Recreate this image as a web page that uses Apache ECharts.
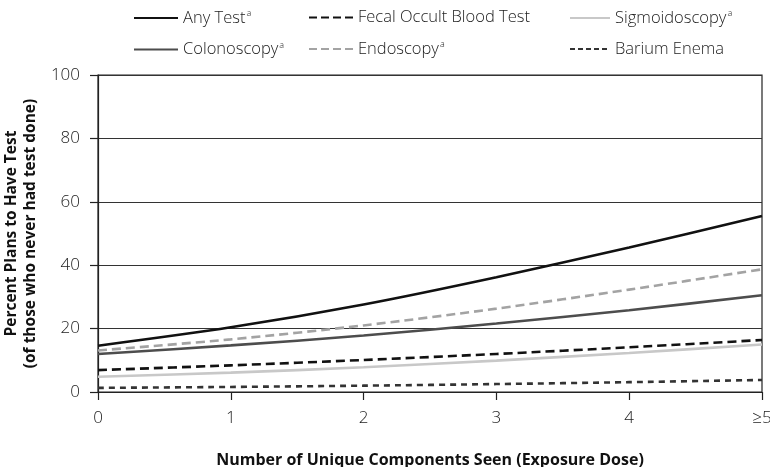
<!DOCTYPE html>
<html><head><meta charset="utf-8">
<script src="https://cdn.jsdelivr.net/npm/echarts@6/dist/echarts.min.js"></script>
<style>html,body{margin:0;padding:0;background:#fff}#c{width:770px;height:467px}</style>
</head><body><div id="c"></div>
<script>
var categories = ['0', '1', '2', '3', '4', '\u22655'];
var anyTest = [14.6, 20.4, 27.6, 36.2, 45.6, 55.5];
var colonoscopy = [12.0, 14.7, 17.8, 21.6, 25.8, 30.5];
var fobt = [6.9, 8.4, 10.1, 12.0, 14.1, 16.4];
var endoscopy = [13.1, 16.6, 21.0, 26.3, 32.3, 38.7];
var sigmoidoscopy = [4.8, 6.1, 7.8, 9.9, 12.3, 15.0];
var bariumEnema = [1.3, 1.6, 2.0, 2.5, 3.1, 3.8];
var yTicks = [0, 20, 40, 60, 80, 100];

var font = 'Open Sans';
var chart = echarts.init(document.getElementById('c'));
function mk(name, data, color, type, width) {
  return {
    name: name, type: 'line', data: data, smooth: 0.3, symbol: 'none',
    lineStyle: {color: color, width: width || 2.5, type: type},
    itemStyle: {color: color}
  };
}
var legendText = {fontFamily: font, fontSize: 16.5, color: '#222', fontWeight: 300,
  rich: {n: {fontFamily: font, fontSize: 16.5, color: '#222', fontWeight: 300},
         s: {fontFamily: font, fontSize: 9, color: '#222', verticalAlign: 'top', padding: [0, 0, 9, 1]}}};
function fmt(name) {
  var sup = {'Any Test': 1, 'Colonoscopy': 1, 'Endoscopy': 1, 'Sigmoidoscopy': 1};
  return sup[name] ? '{n|' + name + '}{s|a}' : '{n|' + name + '}';
}
function lg(left, names, w) {
  return {left: left, top: 4, orient: 'vertical', itemGap: 14, itemWidth: w, itemHeight: 16,
    data: names, formatter: fmt, textStyle: legendText, selectedMode: false,
    itemStyle: {opacity: 0, borderWidth: 0}};
}
chart.setOption({
  animation: false,
  legend: [
    lg(128, ['Any Test', 'Colonoscopy'], 44),
    lg(303, [{name: 'Fecal Occult Blood Test', lineStyle: {type: [8, 4]}},
             {name: 'Endoscopy', lineStyle: {type: [8, 4]}}], 44),
    lg(564, ['Sigmoidoscopy', {name: 'Barium Enema', lineStyle: {type: [5, 3]}}], 40)
  ],
  grid: {left: 98, right: 8, top: 75, bottom: 75, show: true, borderColor: '#222', borderWidth: 1.2,
    containLabel: false, outerBoundsMode: 'none'},
  xAxis: {
    type: 'category', data: categories, boundaryGap: false,
    name: 'Number of Unique Components Seen (Exposure Dose)', nameLocation: 'middle', nameGap: 60,
    nameTextStyle: {fontFamily: font, fontSize: 16, fontWeight: 'bold', color: '#111'},
    axisLine: {lineStyle: {color: '#222', width: 1.2}},
    axisTick: {show: true, length: 8, alignWithLabel: true, lineStyle: {color: '#222', width: 1.2}},
    axisLabel: {fontFamily: font, fontSize: 17, color: '#222', fontWeight: 300, margin: 18}
  },
  yAxis: {
    type: 'value', min: yTicks[0], max: yTicks[yTicks.length - 1], interval: 20,
    name: 'Percent Plans to Have Test\n(of those who never had test done)', nameLocation: 'middle', nameGap: 58,
    nameTextStyle: {fontFamily: font, fontSize: 15.5, fontWeight: 'bold', color: '#111', lineHeight: 19},
    axisLine: {show: true, lineStyle: {color: '#222', width: 1.2}},
    axisTick: {show: true, length: 8, lineStyle: {color: '#222', width: 1.2}},
    splitLine: {show: true, lineStyle: {color: '#333', width: 1.2}},
    axisLabel: {fontFamily: font, fontSize: 17, color: '#222', fontWeight: 300, margin: 18}
  },
  series: [
    mk('Any Test', anyTest, '#111111', 'solid', 2.6),
    mk('Colonoscopy', colonoscopy, '#4d4d4d', 'solid', 2.6),
    mk('Fecal Occult Blood Test', fobt, '#111111', [9, 5], 2.6),
    mk('Endoscopy', endoscopy, '#a3a3a3', [9, 5], 2.6),
    mk('Sigmoidoscopy', sigmoidoscopy, '#c8c8c8', 'solid', 2.6),
    mk('Barium Enema', bariumEnema, '#333333', [6, 5], 2.6)
  ]
});
</script></body></html>
